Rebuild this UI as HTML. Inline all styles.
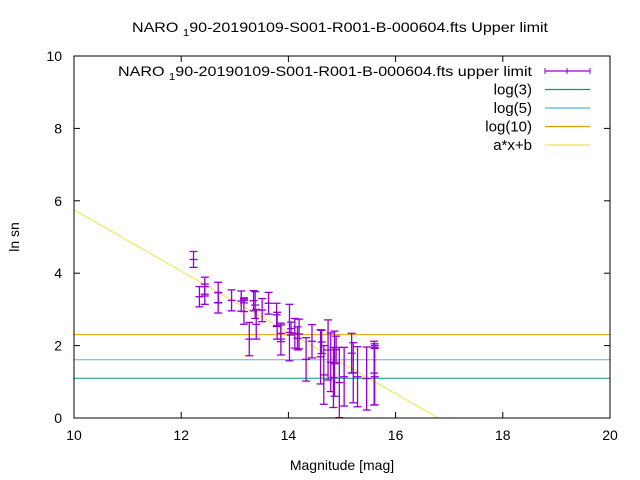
<!DOCTYPE html>
<html><head><meta charset="utf-8"><style>
body{margin:0;background:#fff;}
svg{display:block;font-family:"Liberation Sans",sans-serif;}
</style></head><body>
<svg id="chart" width="640" height="480" viewBox="0 0 640 480">
<rect x="0" y="0" width="640" height="480" fill="#fff"/>
<text x="132" y="32" font-size="14" textLength="416" lengthAdjust="spacingAndGlyphs">NARO <tspan font-size="10" dy="4">1</tspan><tspan dy="-4">90-20190109-S001-R001-B-000604.fts Upper limit</tspan></text>
<g id="axes"></g>
<g id="series"></g>
<rect x="74" y="56" width="536" height="362" fill="none" stroke="#000" stroke-width="1"/>
<text x="342" y="470" font-size="14" text-anchor="middle">Magnitude [mag]</text>
<text x="19" y="237" font-size="14" text-anchor="middle" transform="rotate(-90 19 237)">ln sn</text>
<g id="legend"></g>
</svg>
<script>
const mags = [12.23,12.34,12.44,12.44,12.69,12.69,12.94,13.12,13.17,13.17,13.27,13.35,13.38,13.40,13.51,13.63,13.78,13.79,13.86,13.86,14.02,14.05,14.12,14.17,14.20,14.33,14.44,14.60,14.62,14.66,14.74,14.79,14.84,14.86,14.89,14.95,15.04,15.18,15.21,15.29,15.46,15.60,15.61,15.61];
const vals = [4.38,3.35,3.63,3.42,3.47,3.18,3.25,3.23,2.94,3.25,2.18,3.24,3.12,2.59,2.98,3.17,2.85,2.55,2.18,2.34,2.36,2.47,2.34,2.20,2.32,1.62,2.12,1.69,2.10,1.19,1.88,1.54,1.12,1.50,1.89,0.98,1.14,1.79,1.25,1.14,1.09,1.24,1.14,2.00];
const errs = [0.22,0.28,0.26,0.28,0.28,0.28,0.29,0.28,0.35,0.07,0.46,0.28,0.37,0.41,0.32,0.30,0.32,0.37,0.44,0.23,0.78,0.18,0.41,0.32,0.41,0.60,0.46,0.75,0.32,0.81,0.83,0.81,0.83,0.90,0.37,0.97,0.81,0.55,0.83,0.83,0.87,0.88,0.78,0.05];
const xTicks = [10,12,14,16,18,20];
const yTicks = [0,2,4,6,8,10];
const hLines = [Math.log(3),Math.log(5),Math.log(10)];
const fitA = -0.846, fitB = 14.21;

const NS="http://www.w3.org/2000/svg";
const X=v=>74+(v-10)*53.6;
const Y=v=>418-v*36.2;
function mk(tag,attrs,parent){const e=document.createElementNS(NS,tag);for(const k in attrs)e.setAttribute(k,attrs[k]);parent.appendChild(e);return e;}
const axes=document.getElementById('axes'),ser=document.getElementById('series'),leg=document.getElementById('legend');
xTicks.forEach(t=>{
 const g=mk('g',{},axes);
 
 
 mk('line',{x1:X(t),x2:X(t),y1:418,y2:412,stroke:'#000'},g);
 mk('line',{x1:X(t),x2:X(t),y1:56,y2:62,stroke:'#000'},g);
 const tx=mk('text',{x:X(t),y:440,'font-size':14,'text-anchor':'middle'},g);tx.textContent=t;
});
yTicks.forEach(t=>{
 const g=mk('g',{},axes);
 
 
 mk('line',{x1:74,x2:80,y1:Y(t),y2:Y(t),stroke:'#000'},g);
 mk('line',{x1:610,x2:604,y1:Y(t),y2:Y(t),stroke:'#000'},g);
 const tx=mk('text',{x:62,y:Y(t)+5,'font-size':14,'text-anchor':'end'},g);tx.textContent=t;
});
const hColors=['#009e73','#56b4e9','#e69f00'];
const hNames=['log3-line','log5-line','log10-line'];
hLines.forEach((v,i)=>{
 const l=mk('line',{x1:74,x2:610,y1:Y(v),y2:Y(v),stroke:hColors[i],'stroke-width':1},ser);
 
 
});
let x0=10,y0=fitA*x0+fitB;if(y0>10){x0=(10-fitB)/fitA;y0=10;}
let x1=(0-fitB)/fitA,y1=0;if(x1>20){x1=20;y1=fitA*20+fitB;}
const fl=mk('line',{x1:X(x0),y1:Y(y0),x2:X(x1),y2:Y(y1),stroke:'#f0e442','stroke-width':1},ser);


mags.forEach((m,i)=>{
 const g=mk('g',{stroke:'#9400d3','stroke-width':1.3},ser);
 
 
 const x=X(m),yt=Y(vals[i]+errs[i]),yb=Y(vals[i]-errs[i]),yc=Y(vals[i]);
 mk('line',{x1:x,x2:x,y1:yt,y2:yb},g);
 mk('line',{x1:x-4,x2:x+4,y1:yt,y2:yt},g);
 mk('line',{x1:x-4,x2:x+4,y1:yb,y2:yb},g);
 mk('line',{x1:x-4,x2:x+4,y1:yc,y2:yc},g);
});
const legItems=[['NARO ₁90-20190109-S001-R001-B-000604.fts upper limit','#9400d3',true],['log(3)','#009e73'],['log(5)','#56b4e9'],['log(10)','#e69f00'],['a*x+b','#f0e442']];
legItems.forEach((it,i)=>{
 const y=71+i*18.5;
 const g=mk('g',{},leg);
 
 
 if(it[2]){
  const t=mk('text',{x:118,y:y+5,'font-size':14,textLength:414,lengthAdjust:'spacingAndGlyphs'},g);
  t.innerHTML='NARO <tspan font-size="10" dy="4">1</tspan><tspan dy="-4">90-20190109-S001-R001-B-000604.fts upper limit</tspan>';
 } else {
  const t=mk('text',{x:532,y:y+5,'font-size':15,'text-anchor':'end'},g);
  t.textContent=it[0];
 }
 mk('line',{x1:545,x2:590,y1:y,y2:y,stroke:it[1],'stroke-width':1.2},g);
 if(it[2]){mk('line',{x1:545,x2:545,y1:y-3,y2:y+3,stroke:it[1]},g);mk('line',{x1:590,x2:590,y1:y-3,y2:y+3,stroke:it[1]},g);mk('line',{x1:567,x2:567,y1:y-3,y2:y+3,stroke:it[1]},g);}
});
</script>
</body></html>
